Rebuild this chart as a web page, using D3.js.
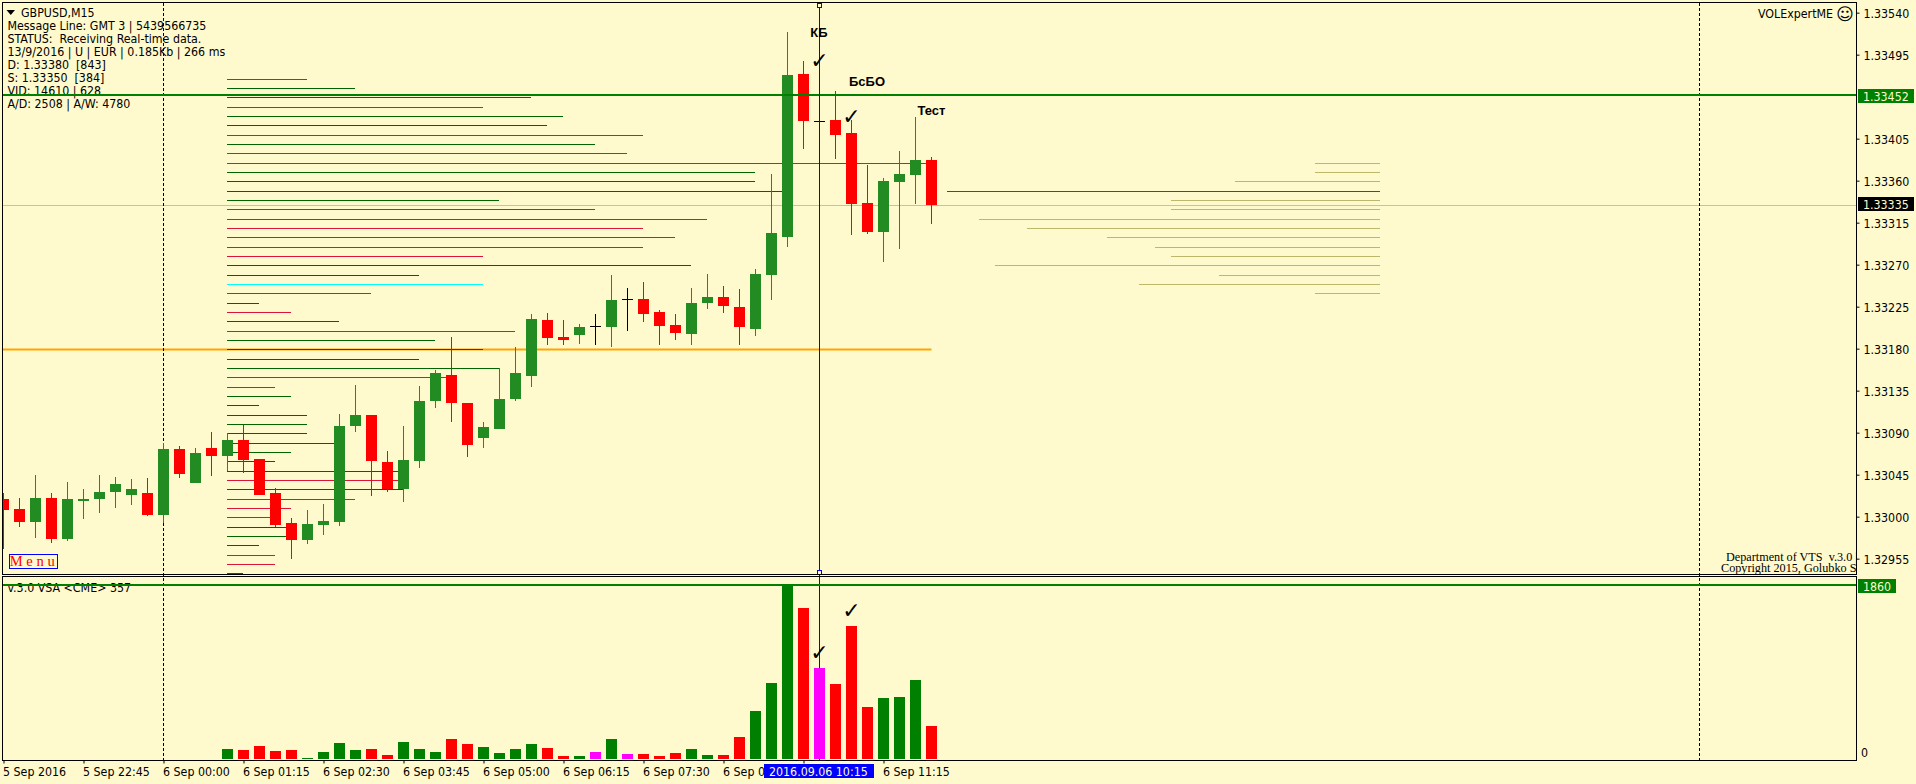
<!DOCTYPE html>
<html><head><meta charset="utf-8">
<script src="https://cdn.jsdelivr.net/npm/d3@7"></script>
<style>
html,body{margin:0;padding:0;background:#fffacd;overflow:hidden}
svg{display:block}
text{font-family:"DejaVu Sans Condensed","DejaVu Sans",sans-serif;font-size:12.3px;fill:#000}
.serif{font-family:"Liberation Serif",serif}
.note{font-family:"Liberation Sans",sans-serif;font-weight:bold;font-size:13px}
.check{font-family:"DejaVu Sans",sans-serif;font-size:22px;font-weight:bold}
</style></head><body><svg id="c" width="1916" height="784"></svg>
<script>
// ---------- Candles, bar 0..58 ----------
const opens=[1.33019,1.33009,1.32995,1.33021,1.32977,1.33017,1.33019,1.33027,1.33024,1.33026,1.33002,1.33073,1.33037,1.33074,1.33066,1.33083,1.33062,1.33026,1.32994,1.32976,1.32992,1.32995,1.33098,1.33110,1.33059,1.33030,1.33060,1.33125,1.33152,1.33122,1.33085,1.33095,1.33127,1.33151,1.33211,1.33193,1.33195,1.33205,1.33204,1.33234,1.33234,1.33220,1.33206,1.33196,1.33229,1.33236,1.33225,1.33202,1.33260,1.33300,1.33475,1.33425,1.33426,1.33412,1.33337,1.33306,1.33359,1.33367,1.33383];
const closes=[1.33008,1.32995,1.33021,1.32977,1.33020,1.33020,1.33027,1.33036,1.33030,1.33002,1.33073,1.33046,1.33069,1.33066,1.33083,1.33061,1.33024,1.32992,1.32976,1.32993,1.32996,1.33098,1.33110,1.33060,1.33030,1.33061,1.33124,1.33154,1.33122,1.33077,1.33097,1.33127,1.33154,1.33212,1.33192,1.33190,1.33204,1.33205,1.33233,1.33234,1.33218,1.33205,1.33197,1.33229,1.33236,1.33226,1.33204,1.33261,1.33304,1.33474,1.33425,1.33425,1.33410,1.33336,1.33306,1.33360,1.33368,1.33383,1.33335];
const highs=[1.33026,1.33021,1.33045,1.33026,1.33038,1.33030,1.33045,1.33043,1.33041,1.33042,1.33079,1.33076,1.33074,1.33091,1.33090,1.33099,1.33062,1.33031,1.32999,1.33008,1.33014,1.33111,1.33142,1.33110,1.33071,1.33098,1.33141,1.33158,1.33193,1.33122,1.33102,1.33160,1.33182,1.33218,1.33219,1.33211,1.33207,1.33218,1.33260,1.33246,1.33252,1.33222,1.33218,1.33246,1.33261,1.33248,1.33245,1.33266,1.33368,1.33520,1.33489,1.33435,1.33457,1.33426,1.33377,1.33363,1.33392,1.33429,1.33386];
const lows=[1.32966,1.32989,1.32978,1.32972,1.32974,1.32998,1.33005,1.33010,1.33013,1.33001,1.32994,1.33042,1.33037,1.33044,1.33049,1.33047,1.33024,1.32989,1.32955,1.32971,1.32981,1.32991,1.33091,1.33023,1.33027,1.33016,1.33053,1.33117,1.33102,1.33065,1.33074,1.33094,1.33124,1.33140,1.33184,1.33184,1.33186,1.33184,1.33182,1.33199,1.33209,1.33185,1.33190,1.33184,1.33223,1.33219,1.33185,1.33194,1.33233,1.33290,1.33395,1.33415,1.33384,1.33302,1.33303,1.33273,1.33287,1.33336,1.33314];
// ---------- Volume, bars 14..58 ----------
const volumeStart=14;
const volumes=[107,96,139,86,96,11,75,171,96,107,43,182,107,75,214,160,128,64,107,160,118,32,32,75,214,53,53,32,64,107,43,43,235,513,812,1860,1614,973,802,1422,556,652,663,844,353];
const volumeKinds=["up","down","down","down","down","up","up","up","up","down","down","up","up","up","down","down","up","up","up","up","down","down","up","spec","up","spec","down","down","down","up","up","down","down","up","up","up","down","spec","down","down","down","up","up","up","down"];
// ---------- Left profile: price levels, length in bars ----------
const profileTop=1.33470, profileStep=0.00010, profileStart=14;
const profileLengths=[5,8,19,16,21,20,26,23,25,44,33,33,35,17,23,30,26,28,26,16,29,12,16,9,2,4,7,18,13,16,12,17,14,3,4,2,5,5,5,7,4,3,11,11,11,8,4,3,4,4,2,3,3,1];
const profileKinds=["s","b","b","s","b","b","s","b","s","s","b","b","b","b","s","s","s","s","s","s","b","b","c","s","b","s","b","s","b","b","b","b","s","s","b","b","b","b","b","b","b","b","b","s","b","s","s","s","b","b","b","s","s","b"];
// ---------- Right profile ----------
const sideLevels=[1.33380,1.33370,1.33360,1.33350,1.33340,1.33330,1.33320,1.33310,1.33300,1.33290,1.33280,1.33270,1.33260,1.33250,1.33240];
const sideLengths=[4,4,9,27,13,13,25,22,17,14,13,24,10,15,4];
const sideEnd=86, sideKey=1.33350;
// ---------- Axes and levels ----------
const priceTicks=[1.33540,1.33495,1.33405,1.33360,1.33315,1.33270,1.33225,1.33180,1.33135,1.33090,1.33045,1.33000,1.32955];
const timeTickBars=[0,5,10,15,20,25,30,35,40,45,50,55];
const timeLabels=["5 Sep 2016","5 Sep 22:45","6 Sep 00:00","6 Sep 01:15","6 Sep 02:30","6 Sep 03:45","6 Sep 05:00","6 Sep 06:15","6 Sep 07:30","6 Sep 0","","6 Sep 11:15"];
const resistance=1.33452, bidPrice=1.33335, support=1.33180, supportEnd=58, volMax=1860;
const daySeparators=[10,106], crossBar=51, crossLabel="2016.09.06 10:15";
const infoLines=["Message Line: GMT 3 | 5439566735","STATUS:  Receiving Real-time data.","13/9/2016 | U | EUR | 0.185Kb | 266 ms","D: 1.33380  [843]","S: 1.33350  [384]","VID: 14610 | 628","A/D: 2508 | A/W: 4780"];

const C={bg:"#fffacd",up:"#228b22",down:"#ff0000",vup:"#008000",vdown:"#ff0000",spec:"#ff00ff",pb:"#006400",ps:"#dc143c",pc:"#00ffff",side:"#bdb76b"};
const L=3,R=1856,T=3,B=574,ST=577,SB=760;
const svg=d3.select("#c");
const x=d3.scaleLinear().domain([0,1]).range([3.5,19.5]);
const y=d3.scaleLinear().domain([1.33540,1.32955]).range([12.67,558.67]);
const py=p=>Math.ceil(y(p)-1e-6);
const v=d3.scaleLinear().domain([0,volMax]).range([759,585]);
const hline=(g,xa,xb,yy,col,w=1)=>g.append("line").attr("x1",xa).attr("x2",xb).attr("y1",yy).attr("y2",yy).attr("stroke",col).attr("stroke-width",w);
const vline=(g,xx,ya,yb,col,w=1)=>g.append("line").attr("x1",xx).attr("x2",xx).attr("y1",ya).attr("y2",yb).attr("stroke",col).attr("stroke-width",w);

const defs=svg.append("defs");
defs.append("clipPath").attr("id","cm").append("rect").attr("x",L).attr("y",T).attr("width",R-L).attr("height",B-T);
defs.append("clipPath").attr("id","cs").append("rect").attr("x",L).attr("y",ST).attr("width",R-L).attr("height",SB-ST);

svg.append("rect").attr("width",1916).attr("height",784).attr("fill",C.bg);

// info text beneath lines
const info=svg.append("g");
info.append("path").attr("d","M6.5 10H15L10.75 15Z").attr("fill","#000");
info.append("text").attr("x",21).attr("y",17).text("GBPUSD,M15");
infoLines.forEach((t,i)=>info.append("text").attr("x",7.5).attr("y",30+13*i).attr("xml:space","preserve").text(t));
svg.append("text").attr("x",7.5).attr("y",592).text("v.3.0 VSA <CME> 357");

const main=svg.append("g").attr("clip-path","url(#cm)");
hline(main,L,R,py(bidPrice)+.5,"#c0c0c0");
hline(main,L,x(supportEnd),py(support)+.5,"#ffa500",2);

// left profile
main.selectAll(".p").data(profileLengths).join("line")
  .attr("x1",x(profileStart)-.5).attr("x2",(d)=>x(profileStart+d)-.5)
  .attr("y1",(d,i)=>py(profileTop-i*profileStep)+.5).attr("y2",(d,i)=>py(profileTop-i*profileStep)+.5)
  .attr("stroke",(d,i)=>({b:C.pb,s:C.ps,c:C.pc})[profileKinds[i]]).attr("stroke-width",1);
// right profile
main.selectAll(".q").data(sideLengths).join("line")
  .attr("x1",d=>x(sideEnd-d)-.5).attr("x2",x(sideEnd)+.5)
  .attr("y1",(d,i)=>py(sideLevels[i])+.5).attr("y2",(d,i)=>py(sideLevels[i])+.5)
  .attr("stroke",(d,i)=>sideLevels[i]===sideKey?"#ff0000":C.side);

// day separators and crosshair
daySeparators.forEach(b=>vline(svg,x(b),T,SB,"#000").attr("stroke-dasharray","3,2"));
vline(svg,x(crossBar),T,SB,"#0000ff");

// candles, above the separators
const cg=svg.append("g").attr("clip-path","url(#cm)");
const bars=d3.range(opens.length);
const col=i=>opens[i]===closes[i]?"#000":(closes[i]>opens[i]?C.up:C.down);
cg.selectAll(".w").data(bars).join("line")
  .attr("x1",i=>x(i)).attr("x2",i=>x(i)).attr("y1",i=>py(highs[i])).attr("y2",i=>py(lows[i]))
  .attr("stroke",col);
cg.selectAll(".b").data(bars).join("rect")
  .attr("x",i=>x(i)-5.5).attr("width",11)
  .attr("y",i=>py(Math.max(opens[i],closes[i])))
  .attr("height",i=>Math.max(1,py(Math.min(opens[i],closes[i]))-py(Math.max(opens[i],closes[i]))))
  .attr("fill",col);

// top level line over candles
hline(svg,L,R,py(resistance),"#008000",2);
vline(svg,x(crossBar),T,B,"#0000ff");
[5.5,572.5].forEach(yy=>svg.append("rect").attr("x",x(crossBar)-2).attr("y",yy-2).attr("width",4).attr("height",4).attr("fill",C.bg).attr("stroke","#0000ff"));

// volume
const sub=svg.append("g").attr("clip-path","url(#cs)");
sub.selectAll("rect").data(volumes).join("rect")
  .attr("x",(d,i)=>x(volumeStart+i)-5.5).attr("width",11)
  .attr("y",d=>Math.round(v(d))).attr("height",d=>759-Math.round(v(d)))
  .attr("fill",(d,i)=>({up:C.vup,down:C.vdown,spec:C.spec})[volumeKinds[i]]);
hline(svg,L,R,585,"#008000",2);

// annotations
[["КБ",819,37],["БсБО",867,86],["Тест",931.5,115]].forEach(a=>svg.append("text").attr("class","note").attr("x",a[1]).attr("y",a[2]).attr("text-anchor","middle").text(a[0]));
[[819.5,68],[851.5,124],[819.5,660],[851.5,618]].forEach(a=>svg.append("text").attr("class","check").attr("x",a[0]).attr("y",a[1]).attr("text-anchor","middle").text("✓"));

// menu and signature
svg.append("rect").attr("x",9.5).attr("y",554.5).attr("width",48).attr("height",14).attr("fill","none").attr("stroke","#0000ff");
svg.append("text").attr("class","serif").attr("x",9.7).attr("y",566).style("fill","#ff0000").style("font-size","14.6px").attr("xml:space","preserve").text("M e n u");
const sig=svg.append("g").attr("clip-path","url(#cm)");
sig.append("text").attr("class","serif").attr("x",1726).attr("y",560.5).style("font-size","12.2px").attr("xml:space","preserve").text("Department of VTS  v.3.0 |");
sig.append("text").attr("class","serif").attr("x",1721).attr("y",572).style("font-size","12.2px").text("Copyright 2015, Golubko S.");
svg.append("text").attr("x",1758).attr("y",18).text("VOLExpertME");
svg.append("text").attr("x",1845).attr("y",19.5).attr("text-anchor","middle").style("font-family","DejaVu Sans").style("font-size","17px").text("☺");

// frames
const frame=(a,b)=>svg.append("rect").attr("x",2.5).attr("y",a+.5).attr("width",R-2).attr("height",b-a).attr("fill","none").attr("stroke","#000");
frame(2,574); frame(576,760);

// axes
const ay=d3.axisRight(y).tickValues(priceTicks).tickFormat(d3.format(".5f")).tickSize(3).tickPadding(4);
const gy=svg.append("g").attr("transform",`translate(${R+.5},0)`).call(ay);
gy.select(".domain").remove();
gy.selectAll("text").style("font-size","12.3px").attr("dy","0.36em");
gy.selectAll("line").attr("stroke","#000");
const ax=d3.axisBottom(x).tickValues(timeTickBars).tickFormat((d,i)=>timeLabels[i]).tickSize(3).tickPadding(4);
const gx=svg.append("g").attr("transform",`translate(0,${SB+.5})`).call(ax);
gx.select(".domain").remove();
gx.selectAll("text").attr("text-anchor","start").attr("dx","-1").style("font-size","12.3px");
gx.selectAll("line").attr("stroke","#000");
svg.append("text").attr("x",1861).attr("y",756.5).text("0");

// price and volume tags
const tag=(x0,w,yy,h,bg,t)=>{svg.append("rect").attr("x",x0).attr("y",yy).attr("width",w).attr("height",h).attr("fill",bg);
 svg.append("text").attr("x",x0+5).attr("y",yy+h/2+4.5).style("fill",C.bg).text(t);};
tag(1858,56,89,14,"#008000",d3.format(".5f")(resistance));
tag(1858,56,197,14,"#000000",d3.format(".5f")(bidPrice));
tag(1858,38,579,14,"#008000",String(volMax));
// crosshair time tag
svg.append("rect").attr("x",764).attr("y",764).attr("width",110).attr("height",14).attr("fill","#0000ff");
svg.append("text").attr("x",769).attr("y",775.5).style("fill",C.bg).text(crossLabel);
</script></body></html>
